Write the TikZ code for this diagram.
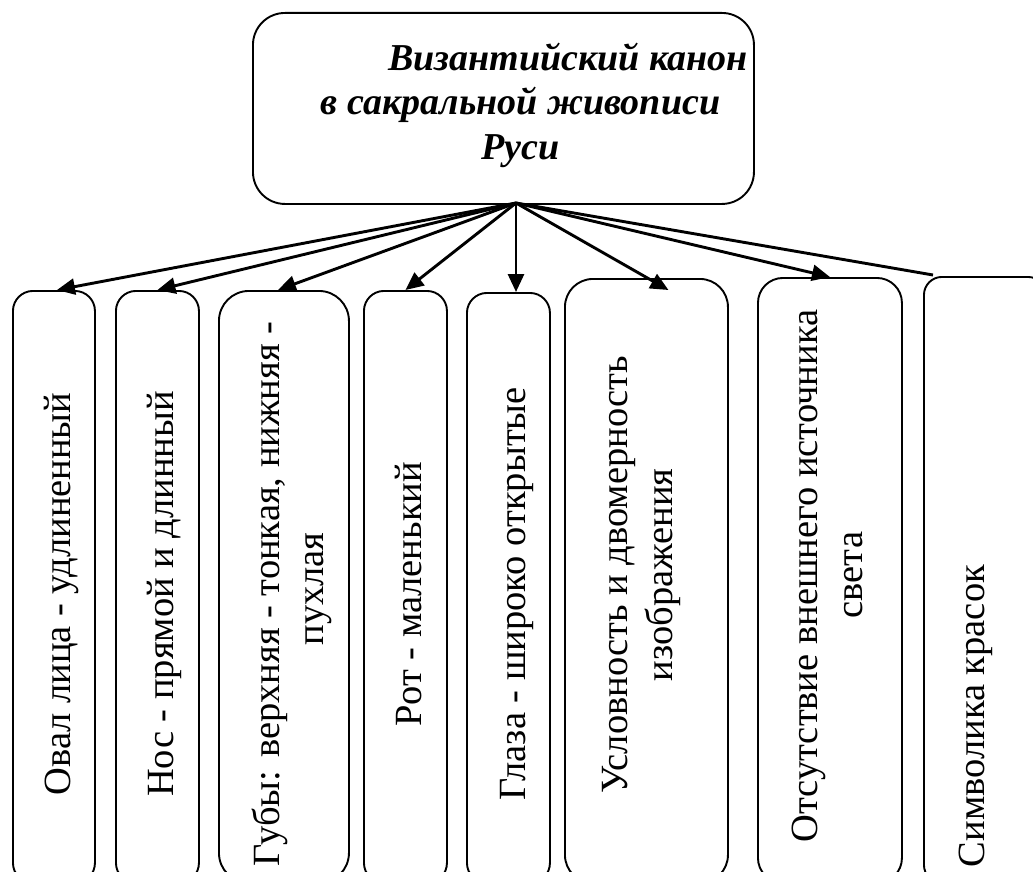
\documentclass[tikz,border=0pt]{standalone}
\usepackage{fontspec}
\setmainfont{Liberation Serif}
\usetikzlibrary{arrows.meta,calc}
\begin{document}
\begin{tikzpicture}[x=1pt,y=-1pt,
  boxshape/.style={draw=black, line width=1.9pt, rectangle, inner sep=0pt, anchor=north west},
  arr/.style={line width=2.9pt, -{Triangle[length=18pt,width=16pt]}},
  conn/.style={line width=2.9pt},
  lbl/.style={rotate=90, anchor=base, inner sep=0pt, font=\fontsize{38.5}{44}\selectfont},
  ttl/.style={anchor=base, inner sep=0pt, font=\fontsize{38}{44}\selectfont\bfseries\itshape}]
\useasboundingbox (0,0) rectangle (1033,872);
\clip (0,0) rectangle (1033,872);
% title box
\node[boxshape, rounded corners=32pt, minimum width=501pt, minimum height=191pt] (top) at (252,12) {};
\node[ttl] (t0a) at (568,71) {Византийский канон};
\node[ttl] (t0b) at (520.5,115) {в сакральной живописи};
\node[ttl] (t0c) at (520.5,159) {Руси};
\coordinate (hub) at (516,203);
% boxes
\node[boxshape, rounded corners=20pt, minimum width=82pt,  minimum height=592pt] (b1) at (12,290) {};
\node[boxshape, rounded corners=20pt, minimum width=83pt,  minimum height=592pt] (b2) at (115,290) {};
\node[boxshape, rounded corners=30pt, minimum width=130pt, minimum height=592pt] (b3) at (218,290) {};
\node[boxshape, rounded corners=20pt, minimum width=83pt,  minimum height=592pt] (b4) at (363,290) {};
\node[boxshape, rounded corners=20pt, minimum width=83pt,  minimum height=590pt] (b5) at (466,292) {};
\node[boxshape, rounded corners=28pt, minimum width=163pt, minimum height=604pt] (b6) at (564,278) {};
\node[boxshape, rounded corners=25pt, minimum width=144pt, minimum height=605pt] (b7) at (757,277) {};
\node[boxshape, rounded corners=18pt, minimum width=122pt, minimum height=606pt] (b8) at (923,276) {};
% labels
\node[lbl] (t1) at (70,594) {Овал лица - удлиненный};
\node[lbl] (t2) at (173,594) {Нос - прямой и длинный};
\node[lbl] (t3a) at (279,594) {Губы: верхняя - тонкая, нижняя -};
\node[lbl] (t3b) at (323,589) {пухлая};
\node[lbl] (t4) at (421,594) {Рот - маленький};
\node[lbl] (t5) at (525,594) {Глаза - широко открытые};
\node[lbl] (t6a) at (627,575) {Условность и двомерность};
\node[lbl] (t6b) at (672,575) {изображения};
\node[lbl] (t7a) at (817,576) {Отсутствие внешнего источника};
\node[lbl] (t7b) at (862,575) {света};
\node[lbl] (t8) at (984,716) {Символика красок};
% connectors
\draw[arr] (hub) -- ($(b1.north)+(3,0)$);
\draw[arr] (hub) -- (b2.north);
\draw[arr] (hub) -- ($(b3.north)+(-6,0)$);
\draw[arr] (hub) -- (b4.north);
\draw[arr] (hub) -- (hub |- b5.north);
\draw[arr] (hub) -- ($(b6.north)+(22,12)$);
\draw[arr] (hub) -- (b7.north);
\draw[conn] (hub) -- ($(b8.north west)+(10,-1)$);
\end{tikzpicture}
\end{document}
